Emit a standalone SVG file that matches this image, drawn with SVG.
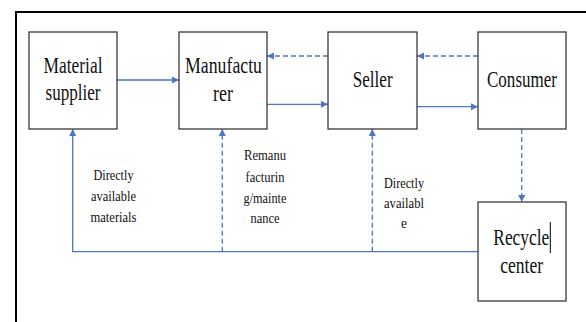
<svg xmlns="http://www.w3.org/2000/svg" width="586" height="322" viewBox="0 0 586 322">
  <style>
    .box { fill: #ffffff; stroke: #3a3a3a; stroke-width: 1.3; }
    .lbl { font-family: "Times New Roman", Times, "Liberation Serif", "Noto Serif", "DejaVu Serif", serif; font-size: 23px; fill: #111111; text-anchor: middle; }
    .note { font-family: "Times New Roman", Times, "Liberation Serif", "Noto Serif", "DejaVu Serif", serif; font-size: 15px; fill: #111111; text-anchor: middle; }
    .flow { fill: none; stroke: #4a78c4; stroke-width: 1.3; }
    .dash { stroke-dasharray: 5 3; }
  </style>
  <defs>
    <marker id="arrow" viewBox="0 0 10 10" refX="10" refY="5" markerWidth="7" markerHeight="7" markerUnits="userSpaceOnUse" orient="auto">
      <path d="M0,0 L10,5 L0,10 Z" fill="#4a78c4"/>
    </marker>
  </defs>
  <rect width="586" height="322" fill="#ffffff"/>
  <!-- page frame -->
  <path d="M16,322 V12 H586" fill="none" stroke="#000000" stroke-width="2"/>

  <g id="connectors">
    <line class="flow" x1="117" y1="80" x2="179" y2="80" marker-end="url(#arrow)"/>
    <line class="flow" x1="267" y1="104.3" x2="328" y2="104.3" marker-end="url(#arrow)"/>
    <line class="flow" x1="417" y1="106.7" x2="478" y2="106.7" marker-end="url(#arrow)"/>
    <line class="flow dash" x1="328" y1="56" x2="267" y2="56" marker-end="url(#arrow)"/>
    <line class="flow dash" x1="478" y1="56" x2="417" y2="56" marker-end="url(#arrow)"/>
    <line class="flow dash" x1="521.7" y1="129" x2="521.7" y2="202" marker-end="url(#arrow)"/>
    <polyline class="flow" points="478,251.7 72.7,251.7 72.7,129" marker-end="url(#arrow)"/>
    <line class="flow dash" x1="222.3" y1="251.7" x2="222.3" y2="129" marker-end="url(#arrow)"/>
    <line class="flow dash" x1="372.3" y1="251.7" x2="372.3" y2="129" marker-end="url(#arrow)"/>
  </g>

  <g id="material-supplier">
    <rect class="box" x="29" y="32" width="88" height="97"/>
    <text class="lbl" x="73" y="73" textLength="59" lengthAdjust="spacingAndGlyphs">Material</text>
    <text class="lbl" x="73" y="100" textLength="55" lengthAdjust="spacingAndGlyphs">supplier</text>
  </g>
  <g id="manufacturer">
    <rect class="box" x="179" y="32" width="88" height="97"/>
    <text class="lbl" x="223.5" y="73" textLength="77" lengthAdjust="spacingAndGlyphs">Manufactu</text>
    <text class="lbl" x="223" y="101" textLength="20" lengthAdjust="spacingAndGlyphs">rer</text>
  </g>
  <g id="seller">
    <rect class="box" x="328" y="32" width="89" height="97"/>
    <text class="lbl" x="372.7" y="87.3" textLength="40" lengthAdjust="spacingAndGlyphs">Seller</text>
  </g>
  <g id="consumer">
    <rect class="box" x="478" y="32" width="88" height="97"/>
    <text class="lbl" x="522" y="87.3" textLength="70" lengthAdjust="spacingAndGlyphs">Consumer</text>
  </g>
  <g id="recycle-center">
    <rect class="box" x="478" y="202" width="88" height="99"/>
    <text class="lbl" x="521.3" y="245" textLength="56" lengthAdjust="spacingAndGlyphs">Recycle</text>
    <text class="lbl" x="521.7" y="273.3" textLength="43" lengthAdjust="spacingAndGlyphs">center</text>
    <line x1="550.3" y1="222" x2="550.3" y2="253" stroke="#000000" stroke-width="1"/>
  </g>

  <g id="label-materials">
    <text class="note" x="113.5" y="179.5" textLength="40" lengthAdjust="spacingAndGlyphs">Directly</text>
    <text class="note" x="113.5" y="201" textLength="45" lengthAdjust="spacingAndGlyphs">available</text>
    <text class="note" x="113.5" y="221.7" textLength="46" lengthAdjust="spacingAndGlyphs">materials</text>
  </g>
  <g id="label-remanufacturing">
    <text class="note" x="265" y="160" textLength="42" lengthAdjust="spacingAndGlyphs">Remanu</text>
    <text class="note" x="265" y="181.7" textLength="39" lengthAdjust="spacingAndGlyphs">facturin</text>
    <text class="note" x="265" y="202.7" textLength="43" lengthAdjust="spacingAndGlyphs">g/mainte</text>
    <text class="note" x="265" y="222.7" textLength="29" lengthAdjust="spacingAndGlyphs">nance</text>
  </g>
  <g id="label-available">
    <text class="note" x="404" y="188.3" textLength="40" lengthAdjust="spacingAndGlyphs">Directly</text>
    <text class="note" x="404" y="208.3" textLength="40" lengthAdjust="spacingAndGlyphs">availabl</text>
    <text class="note" x="404" y="228.3" textLength="6" lengthAdjust="spacingAndGlyphs">e</text>
  </g>
</svg>
